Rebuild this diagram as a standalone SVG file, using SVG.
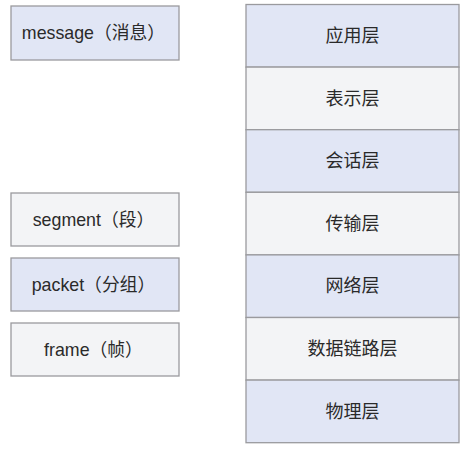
<svg xmlns="http://www.w3.org/2000/svg" width="473" height="451" viewBox="0 0 473 451">
<style>
.b{fill:#e1e6f5;stroke:#9a9a9e;stroke-width:1.3}
.g{fill:#f3f4f6;stroke:#9a9a9e;stroke-width:1.3}
text{font-family:"Liberation Sans","Noto Sans CJK SC",sans-serif;fill:#2a2a2a;text-anchor:middle;dominant-baseline:central}
.l{font-size:17.8px}
.r{font-size:18px}
</style>
<rect width="473" height="451" fill="#ffffff"/>
<g id="message"><rect class="b" x="11" y="6" width="168" height="54"/><text class="l" x="93.5" y="33">message（消息）</text></g>
<g id="segment"><rect class="g" x="11" y="193" width="168" height="53"/><text class="l" x="93.5" y="220">segment（段）</text></g>
<g id="packet"><rect class="b" x="11" y="258" width="168" height="53"/><text class="l" x="93.5" y="285">packet（分组）</text></g>
<g id="frame"><rect class="g" x="11" y="323" width="168" height="53"/><text class="l" x="93.5" y="350">frame（帧）</text></g>
<g id="app"><rect class="b" x="246" y="4.5" width="213" height="62.6"/><text class="r" x="352.5" y="36">应用层</text></g>
<g id="pres"><rect class="g" x="246" y="67.1" width="213" height="62.6"/><text class="r" x="352.5" y="98.6">表示层</text></g>
<g id="sess"><rect class="b" x="246" y="129.7" width="213" height="62.6"/><text class="r" x="352.5" y="161.2">会话层</text></g>
<g id="trans"><rect class="g" x="246" y="192.3" width="213" height="62.6"/><text class="r" x="352.5" y="223.8">传输层</text></g>
<g id="net"><rect class="b" x="246" y="254.9" width="213" height="62.6"/><text class="r" x="352.5" y="286.4">网络层</text></g>
<g id="link"><rect class="g" x="246" y="317.5" width="213" height="62.6"/><text class="r" x="352.5" y="349">数据链路层</text></g>
<g id="phys"><rect class="b" x="246" y="380.1" width="213" height="62.6"/><text class="r" x="352.5" y="411.6">物理层</text></g>
<g id="connectors"></g>
</svg>
